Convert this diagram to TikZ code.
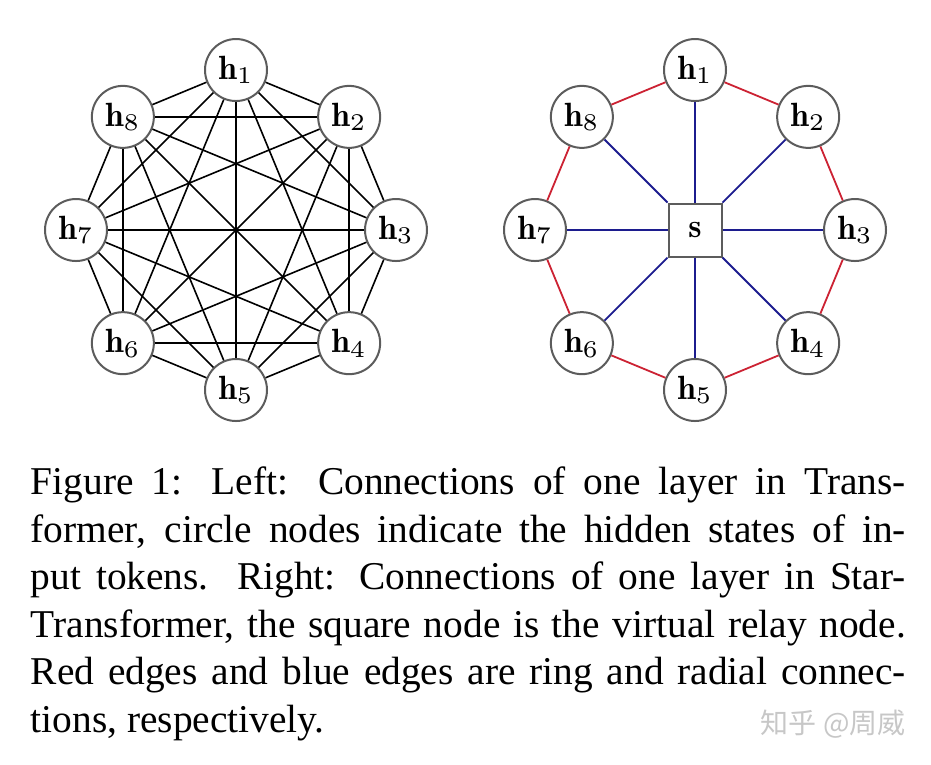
\documentclass[tikz,border=0pt]{standalone}
\usepackage{fontspec}
\newfontfamily\capfont{Liberation Serif}
\newfontfamily\wmfont{Noto Sans CJK SC}
\definecolor{ringRed}{HTML}{CC2233}
\definecolor{radBlue}{HTML}{1C1C8E}
\definecolor{nodeGray}{HTML}{5C5C5C}

\begin{document}
\begin{tikzpicture}[x=0.25pt,y=-0.25pt,every node/.style={font=\fontsize{8.4}{10}\selectfont}]
      \tikzstyle{hid}=[circle,draw=nodeGray,fill=white,line width=0.5pt,
                       minimum size=15.5pt,inner sep=0pt]
      \tikzstyle{relay}=[rectangle,draw=nodeGray,fill=white,line width=0.5pt,
                         minimum size=13.25pt,inner sep=0pt]
      \tikzstyle{edge}=[black,line width=0.4pt]
      \tikzstyle{ring}=[ringRed,line width=0.45pt]
      \tikzstyle{radial}=[radBlue,line width=0.45pt]
      \useasboundingbox (0,0) rectangle (931,764);
      % left: every pair connected
      \begin{scope}[shift={(236,230)}]
        \foreach \i in {1,...,8}
          \node[hid] (l\i) at (45*\i-135:160) {$\mathbf{h}_{\i}$};
      \end{scope}
      \foreach \i in {1,...,7}{
        \pgfmathtruncatemacro\k{\i+1}
        \foreach \j in {\k,...,8}
          \draw[edge] (l\i)--(l\j);
      }
      % right: ring plus relay node
      \node[relay] (s) at (695,230) {$\mathbf{s}$};
      \begin{scope}[shift={(695,230)}]
        \foreach \i in {1,...,8}
          \node[hid] (r\i) at (45*\i-135:160) {$\mathbf{h}_{\i}$};
      \end{scope}
      \foreach \i in {1,...,8}{
        \pgfmathtruncatemacro\n{mod(\i,8)+1}
        \draw[ring] (r\i)--(r\n);
        \draw[radial] (s)--(r\i);
      }
      % caption
      \node[anchor=north west,inner sep=0pt,align=left,
            font=\capfont\fontsize{9.85}{11.9}\selectfont] (cap) at (30,466)
            {\makebox[218.75pt][s]{Figure 1: Left: Connections of one layer in Trans-}\\
             \makebox[218.75pt][s]{former, circle nodes indicate the hidden states of in-}\\
             \makebox[218.75pt][s]{put tokens. Right: Connections of one layer in Star-}\\
             \makebox[218.75pt][s]{Transformer, the square node is the virtual relay node.}\\
             \makebox[218.75pt][s]{Red edges and blue edges are ring and radial connec-}\\
             tions, respectively.};
      \node[anchor=base west,inner sep=0pt,text=black!22,
            font=\wmfont\fontsize{7}{8}\selectfont] (wm) at (760,733) {知乎 @周威};
    \end{tikzpicture}
\end{document}
